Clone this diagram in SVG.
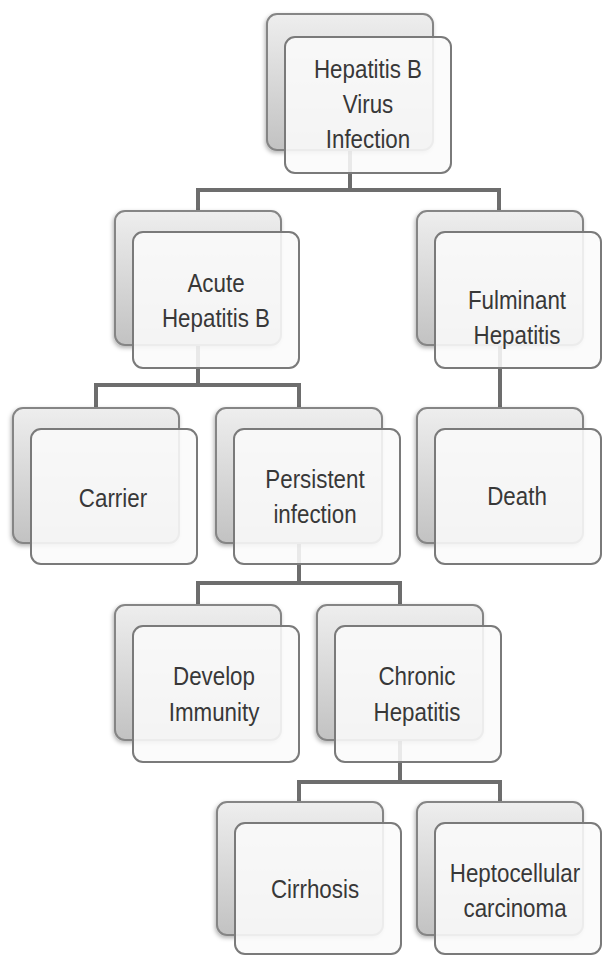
<svg xmlns="http://www.w3.org/2000/svg" width="602" height="956" viewBox="0 0 602 956">
<defs>
<linearGradient id="backGrad" x1="0" y1="0" x2="0" y2="1">
<stop offset="0" stop-color="#eeeeee"/>
<stop offset="1" stop-color="#c2c2c2"/>
</linearGradient>
<filter id="shadow" x="-10%" y="-10%" width="120%" height="125%">
<feDropShadow dx="-1" dy="2" stdDeviation="2" flood-color="#000" flood-opacity="0.3"/>
</filter>
</defs>
<style>
.back{fill:url(#backGrad);stroke:#858585;stroke-width:2;filter:url(#shadow)}
.front{fill:#fafafa;fill-opacity:0.88;stroke:#7a7a7a;stroke-width:2}
.lbl{font-family:"Liberation Sans",Arial,sans-serif;font-size:26px;fill:#383838;text-anchor:middle;transform-box:fill-box;transform-origin:center;transform:scaleX(0.86)}
.conn{fill:none;stroke:#6d6d6d;stroke-width:4}
</style>
<rect width="602" height="956" fill="#ffffff"/>
<g id="connectors">
<path class="conn" d="M350,148 V190 M198,211 V190 H499 V211"/>
<path class="conn" d="M198,345 V385 M96,408 V385 H299 V408"/>
<path class="conn" d="M500,345 V408"/>
<path class="conn" d="M299,543 V583 M198,605 V583 H400 V605"/>
<path class="conn" d="M400,740 V782 M299,802 V782 H500 V802"/>
</g>
<g id="n1">
<rect class="back" x="267" y="14" width="166" height="136" rx="10"/>
<rect class="front" x="285" y="37" width="166" height="136" rx="10"/>
<text class="lbl" x="368" y="78">Hepatitis B</text>
<text class="lbl" x="368" y="113">Virus</text>
<text class="lbl" x="368" y="148">Infection</text>
</g>
<g id="n2">
<rect class="back" x="115" y="211" width="166" height="134" rx="10"/>
<rect class="front" x="133" y="232" width="166" height="136" rx="10"/>
<text class="lbl" x="216" y="292">Acute</text>
<text class="lbl" x="216" y="327">Hepatitis B</text>
</g>
<g id="n3">
<rect class="back" x="417" y="211" width="166" height="134" rx="10"/>
<rect class="front" x="435" y="232" width="166" height="136" rx="10"/>
<text class="lbl" x="517" y="309">Fulminant</text>
<text class="lbl" x="517" y="344">Hepatitis</text>
</g>
<g id="n4">
<rect class="back" x="13" y="408" width="166" height="135" rx="10"/>
<rect class="front" x="31" y="429" width="166" height="135" rx="10"/>
<text class="lbl" x="113" y="507">Carrier</text>
</g>
<g id="n5">
<rect class="back" x="216" y="408" width="166" height="135" rx="10"/>
<rect class="front" x="234" y="429" width="166" height="135" rx="10"/>
<text class="lbl" x="315" y="488">Persistent</text>
<text class="lbl" x="315" y="523">infection</text>
</g>
<g id="n6">
<rect class="back" x="417" y="408" width="166" height="135" rx="10"/>
<rect class="front" x="435" y="429" width="166" height="135" rx="10"/>
<text class="lbl" x="517" y="505">Death</text>
</g>
<g id="n7">
<rect class="back" x="115" y="605" width="166" height="135" rx="10"/>
<rect class="front" x="133" y="626" width="166" height="136" rx="10"/>
<text class="lbl" x="214" y="685">Develop</text>
<text class="lbl" x="214" y="721">Immunity</text>
</g>
<g id="n8">
<rect class="back" x="317" y="605" width="166" height="135" rx="10"/>
<rect class="front" x="335" y="626" width="166" height="136" rx="10"/>
<text class="lbl" x="417" y="685">Chronic</text>
<text class="lbl" x="417" y="721">Hepatitis</text>
</g>
<g id="n9">
<rect class="back" x="217" y="802" width="166" height="133" rx="10"/>
<rect class="front" x="235" y="823" width="166" height="131" rx="10"/>
<text class="lbl" x="315" y="898">Cirrhosis</text>
</g>
<g id="n10">
<rect class="back" x="417" y="802" width="166" height="133" rx="10"/>
<rect class="front" x="435" y="823" width="166" height="131" rx="10"/>
<text class="lbl" x="515" y="882">Heptocellular</text>
<text class="lbl" x="515" y="917">carcinoma</text>
</g>
</svg>
